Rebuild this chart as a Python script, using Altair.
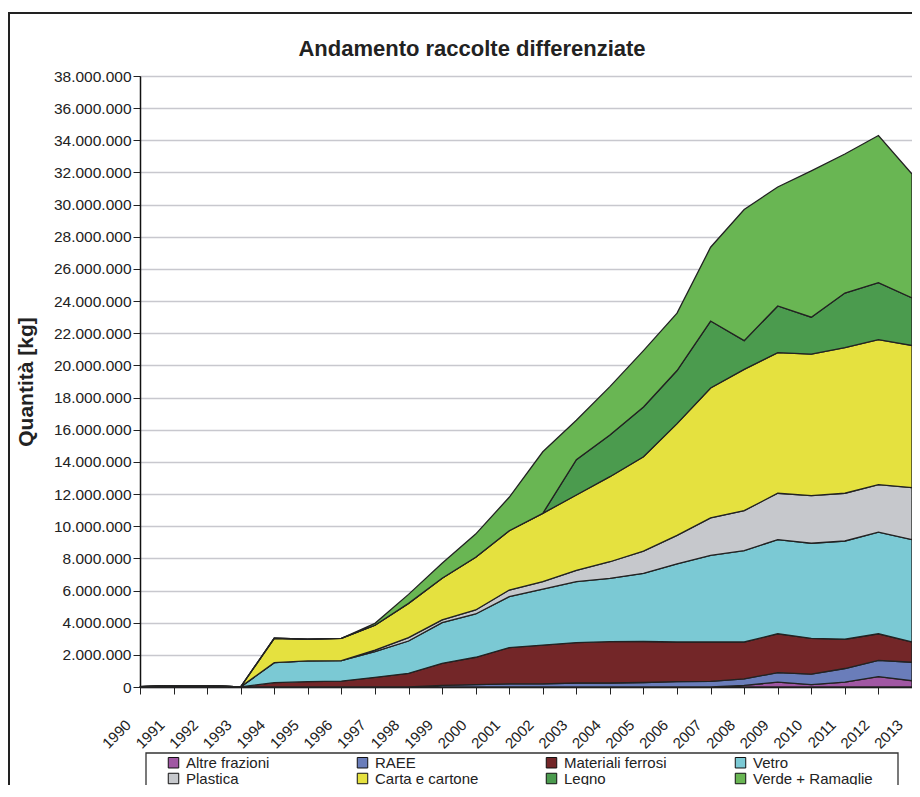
import altair as alt
import pandas as pd

years = [str(y) for y in range(1990, 2014)]

categories = ["Altre frazioni", "RAEE", "Materiali ferrosi", "Vetro",
              "Plastica", "Carta e cartone", "Legno", "Verde + Ramaglie"]
colors = ["#A057A3", "#6A7DBA", "#732628", "#7BC9D4",
          "#C6C8CC", "#E5E13F", "#4B9B4E", "#69B653"]

altre = [0, 0, 0, 0, 0, 0, 0, 0, 0, 0, 0, 0, 0, 0, 0, 0, 0, 0,
         100000, 300000, 150000, 300000, 650000, 390000]
raee = [0, 0, 0, 0, 0, 0, 0, 0, 0, 100000, 150000, 200000, 200000, 250000,
        250000, 280000, 340000, 350000, 400000, 600000, 650000, 850000,
        1010000, 1150000]
ferrosi = [20000, 80000, 80000, 10000, 270000, 330000, 370000, 600000,
           850000, 1370000, 1700000, 2250000, 2410000, 2510000, 2570000,
           2550000, 2460000, 2450000, 2300000, 2410000, 2230000, 1820000,
           1650000, 1260000]
vetro = [0, 0, 0, 0, 1240000, 1290000, 1270000, 1600000, 2010000, 2530000,
         2690000, 3170000, 3470000, 3790000, 3940000, 4240000, 4860000,
         5380000, 5680000, 5860000, 5910000, 6110000, 6320000, 6370000]
plastica = [0, 0, 0, 0, 0, 0, 0, 100000, 210000, 170000, 250000, 410000,
            470000, 710000, 1030000, 1380000, 1770000, 2340000, 2490000,
            2880000, 2960000, 2970000, 2950000, 3230000]
carta = [0, 0, 0, 0, 1520000, 1350000, 1390000, 1540000, 2130000, 2590000,
         3280000, 3690000, 4250000, 4680000, 5290000, 5870000, 6950000,
         8080000, 8780000, 8750000, 8800000, 9050000, 9020000, 8840000]
legno = [0, 0, 0, 0, 0, 0, 0, 0, 0, 0, 0, 0, 0, 2200000, 2590000, 3100000,
         3300000, 4160000, 1790000, 2900000, 2300000, 3400000, 3550000,
         2960000]
verde = [0, 0, 0, 0, 0, 0, 0, 120000, 560000, 930000, 1440000, 2080000,
         3830000, 2450000, 3010000, 3500000, 3570000, 4590000, 8160000,
         7400000, 9100000, 8650000, 9150000, 7700000]

series = [altre, raee, ferrosi, vetro, plastica, carta, legno, verde]
y_ticks = list(range(0, 38000001, 2000000))

rows = []
for k, (cat, vals) in enumerate(zip(categories, series)):
    for yr, v in zip(years, vals):
        rows.append({"year": yr, "cat": cat, "value": v, "order": k})
df = pd.DataFrame(rows)

FONT = "Liberation Sans"
W, H = 772, 611
PAD_L, PAD_T, PAD_R, PAD_B = 132, 68, 0, 98

areas = alt.Chart(df).mark_area(stroke="#222222", strokeWidth=1.3, opacity=1).encode(
    x=alt.X("year:O", scale=alt.Scale(type="point", padding=0),
            axis=alt.Axis(title=None, labelAngle=-45, labelFontSize=15,
                          labelColor="#222222", tickSize=7, tickColor="#222222",
                          domainColor="#111111", domainWidth=1.5, grid=False,
                          labelPadding=23, labelOffset=-17)),
    y=alt.Y("value:Q", stack="zero",
            scale=alt.Scale(domain=[0, 38000000], nice=False),
            axis=alt.Axis(title="Quantità [kg]", values=y_ticks, format=",d",
                          labelFontSize=15.5, labelColor="#222222",
                          titleFontSize=21, titleFontWeight="bold",
                          titleColor="#222222", titlePadding=17,
                          tickSize=7, tickColor="#222222",
                          domainColor="#111111", domainWidth=1.5,
                          gridColor="#C8C8CE", gridWidth=1.5)),
    color=alt.Color("cat:N", scale=alt.Scale(domain=categories, range=colors),
                    legend=alt.Legend(title=None, orient="none", legendX=26,
                                      legendY=679, columns=4, direction="horizontal",
                                      gridAlign="all", columnPadding=49,
                                      rowPadding=-1, symbolType="square",
                                      symbolSize=110, symbolStrokeColor="#111111",
                                      symbolStrokeWidth=1, labelFontSize=15,
                                      labelColor="#222222", labelOffset=5)),
    order=alt.Order("order:Q"),
)

frame_df = pd.DataFrame({"k": [0]})
outer = alt.Chart(frame_df).mark_rect(fillOpacity=0, stroke="#222222", strokeWidth=2).encode(
    x=alt.value(-131), x2=alt.value(W + 10), y=alt.value(-63), y2=alt.value(H + 120))
legbox = alt.Chart(frame_df).mark_rect(fillOpacity=0, stroke="#333333", strokeWidth=1.3).encode(
    x=alt.value(6), x2=alt.value(758), y=alt.value(677), y2=alt.value(H + 120))

chart = alt.layer(areas, outer, legbox).properties(
    width=W, height=H,
    autosize=alt.AutoSizeParams(type="none"),
    padding={"left": PAD_L, "top": PAD_T, "right": PAD_R, "bottom": PAD_B},
    title=alt.TitleParams("Andamento raccolte differenziate", fontSize=22,
                          fontWeight="bold", color="#222222", anchor="middle",
                          frame="group", dx=-54, offset=-49),
).configure(
    font=FONT,
    locale={"number": {"decimal": ",", "thousands": ".", "grouping": [3],
                       "currency": ["€", ""]}},
).configure_view(stroke="#444444", strokeWidth=1)

chart.save("out.html", embed_options={"renderer": "svg", "actions": False})
